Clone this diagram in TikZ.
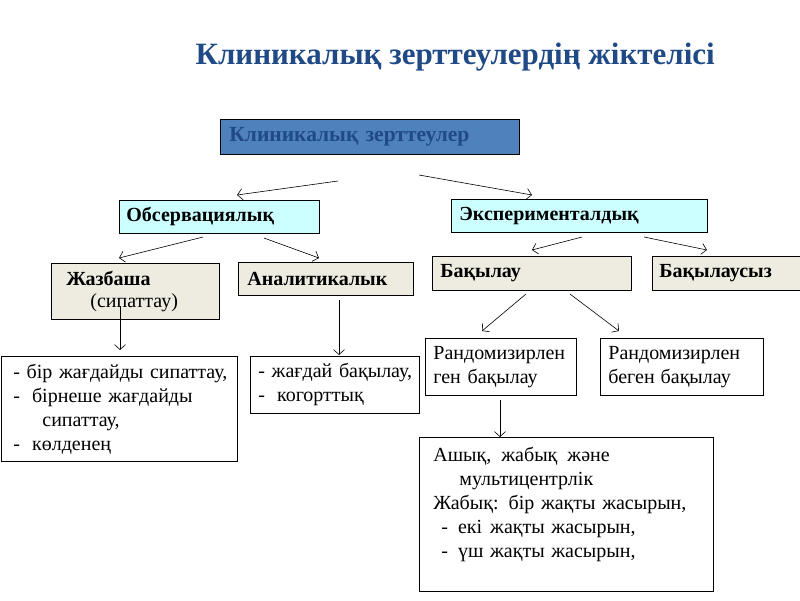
\documentclass[tikz,border=0pt]{standalone}
\usepackage{fontspec}
\setmainfont{Liberation Serif}
\usepackage{xcolor}
\usetikzlibrary{arrows.meta,calc}
\definecolor{kzblue}{HTML}{4F81BD}
\definecolor{kzdark}{HTML}{1F4A86}
\definecolor{kzcyan}{HTML}{CCFFFF}
\definecolor{kzbeige}{HTML}{EEECE1}
\begin{document}
\begin{tikzpicture}[
  x=1pt, y=-1pt,
  box/.style    ={draw=black, line width=0.8pt, anchor=north west, align=left, inner ysep=0pt},
  rootBox/.style={box, fill=kzblue, text=kzdark, font=\fontsize{21.5}{24}\selectfont\bfseries},
  cyanBox/.style={box, fill=kzcyan, font=\fontsize{20}{22}\selectfont\bfseries},
  beigeBox/.style={box, fill=kzbeige, font=\fontsize{20}{22}\selectfont\bfseries},
  textBox/.style={box, fill=white, font=\fontsize{20}{24}\selectfont},
  arr/.style    ={line width=0.6pt, -{Straight Barb[length=5pt,width=11pt]}},
]
\useasboundingbox (0,0) rectangle (800,600);
% title
\node[font=\fontsize{31}{34}\selectfont\bfseries, text=kzdark, anchor=west] (title) at (192,57) {Клиникалық зерттеулердің жіктелісі};
% level 0 and 1
\node[rootBox, text width=281pt, minimum height=35pt, inner xsep=9pt] (root) at (220,119) {Клиникалық зерттеулер};
\node[cyanBox, text width=186pt, minimum height=33pt, inner xsep=7pt] (obs) at (119,200) {Обсервациялық};
\node[cyanBox, text width=240pt, minimum height=33pt, inner xsep=8pt] (exp) at (451,199) {Эксперименталдық};
% observational branch
\node[beigeBox, text width=138pt, minimum height=56pt, inner xsep=15pt] (zhaz) at (51,263)
  {Жазбаша\\\hspace*{24pt}\mdseries(сипаттау)};
\node[beigeBox, text width=157pt, minimum height=33pt, inner xsep=9pt] (anal) at (238,262) {Аналитикалык};
\node[textBox, text width=212pt, minimum height=105pt, inner xsep=12pt] (desc) at (1,356)
  {\mbox{- бір жағдайды сипаттау,}\\
   \mbox{-\hspace{12pt}бірнеше жағдайды}\\
   \mbox{\hspace*{29pt}сипаттау,}\\
   \mbox{-\hspace{12pt}көлденең}};
\node[textBox, text width=153pt, minimum height=57pt, inner xsep=8pt] (case) at (250,356)
  {\mbox{- жағдай бақылау,}\\
   \mbox{-\hspace{12pt}когорттық}};
% experimental branch
\node[beigeBox, text width=183pt, minimum height=34pt, inner xsep=8pt] (bak) at (432,256) {Бақылау};
\node[beigeBox, text width=146pt, minimum height=34pt, inner xsep=7pt] (baks) at (652,256) {Бақылаусыз};
\node[textBox, text width=135pt, minimum height=57pt, inner xsep=8pt] (rand) at (425,338)
  {\mbox{Рандомизирлен}\\\mbox{ген бақылау}};
\node[textBox, text width=147pt, minimum height=57pt, inner xsep=8pt] (nrand) at (600,338)
  {\mbox{Рандомизирлен}\\\mbox{беген\hspace{6pt}бақылау}};
\node[textBox, text width=266pt, minimum height=154pt, inner xsep=14pt] (blind) at (419,437)
  {\mbox{Ашық,\hspace{10pt}жабық\hspace{10pt}және}\\
   \mbox{\hspace*{26pt}мультицентрлік}\\
   \mbox{Жабық: бір жақты жасырын,}\\
   \mbox{\hspace*{8pt}-\hspace{10pt}екі\hspace{8pt}жақты жасырын,}\\
   \mbox{\hspace*{8pt}-\hspace{10pt}үш жақты жасырын,}\\
   \mbox{}};
% arrow ends
\coordinate (r1) at (338,181); \coordinate (r2) at (237,195);
\coordinate (r3) at (419,175); \coordinate (r4) at (532,195);
\coordinate (o1) at (203,237); \coordinate (o2) at (119,258);
\coordinate (o3) at (264,238); \coordinate (o4) at (319,258);
\coordinate (e1) at (582,237); \coordinate (e2) at (532,250);
\coordinate (e3) at (644,237); \coordinate (e4) at (707,250);
\coordinate (b1) at (526,294); \coordinate (b2) at (482,331);
\coordinate (b3) at (570,294); \coordinate (b4) at (619,331);
\coordinate (z1) at (120,306); \coordinate (z2) at (120,350);
\coordinate (a1) at (339,300); \coordinate (a2) at (339,355);
\coordinate (d1) at (500,400); \coordinate (d2) at (500,437);
\foreach \s/\t in {r1/r2,r3/r4,o1/o2,o3/o4,e1/e2,e3/e4,b1/b2,b3/b4,z1/z2,a1/a2,d1/d2}
  \draw[arr] (\s) -- (\t);
\end{tikzpicture}
\end{document}
